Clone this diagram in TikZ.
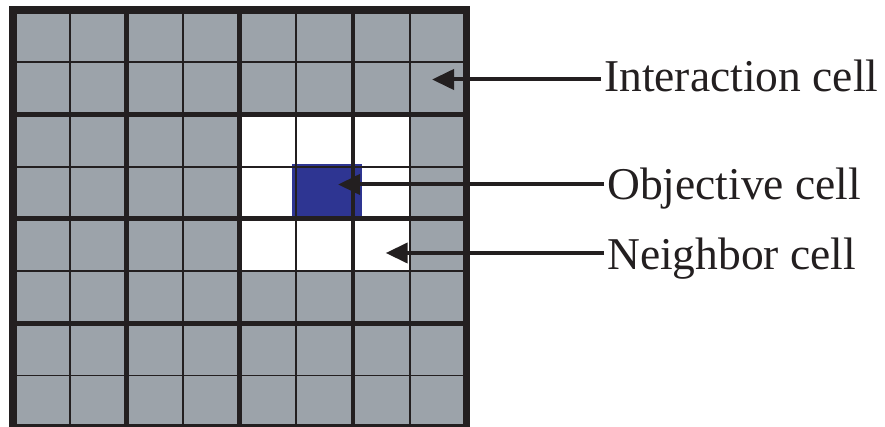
\documentclass[tikz,border=0pt]{standalone}
\usepackage{fontspec}
\setmainfont{Liberation Serif}
\usetikzlibrary{arrows.meta}
\definecolor{cellgray}{RGB}{156,163,170}
\definecolor{objblue}{RGB}{46,53,146}
\definecolor{ink}{RGB}{35,31,32}
\begin{document}
\begin{tikzpicture}[x=1pt,y=-1pt,
  thingrid/.style={draw=ink,line width=1.9pt},
  thickgrid/.style={draw=ink,line width=4.8pt},
  border/.style={draw=ink,line width=7.5pt},
  lbl/.style={anchor=west,inner xsep=3pt,inner ysep=0pt,text height=30.5pt,text depth=0pt,font=\fontsize{45.5}{55}\selectfont,text=ink},
  arr/.style={draw=ink,line width=4pt,-{Triangle[length=22pt,width=20pt]}}]
\useasboundingbox (0,0) rectangle (885,427);
\def\cw{56.66}\def\ch{52.21}
% cells
\fill[cellgray] (13,10) rectangle (466.3,427.7);
\fill[white] (239.6,114.4) rectangle (409.6,271);
\fill[objblue] (292,164) rectangle (362,218.8);
% grid lines
\foreach \i in {1,3,5,7} {
  \draw[thingrid] (13+\i*\cw,10) -- (13+\i*\cw,427.7);
  \draw[thingrid] (13,10+\i*\ch) -- (466.3,10+\i*\ch);
}
\foreach \i in {2,4,6} {
  \draw[thickgrid] (13+\i*\cw,10) -- (13+\i*\cw,427.7);
  \draw[thickgrid] (13,10+\i*\ch) -- (466.3,10+\i*\ch);
}
\draw[border] (13,10) rectangle (466.3,427.7);
% labels
\node[lbl] (I) at (601,76) {Interaction cell};
\node[lbl] (O) at (604,184.5) {Objective cell};
\node[lbl] (N) at (604,254.5) {Neighbor cell};
\coordinate (tI) at (432,79.5);
\coordinate (tO) at (338,184.5);
\coordinate (tN) at (385.7,253);
\draw[arr] (I.west |- tI) -- (tI);
\draw[arr] (O.west |- tO) -- (tO);
\draw[arr] (N.west |- tN) -- (tN);
\end{tikzpicture}
\end{document}
